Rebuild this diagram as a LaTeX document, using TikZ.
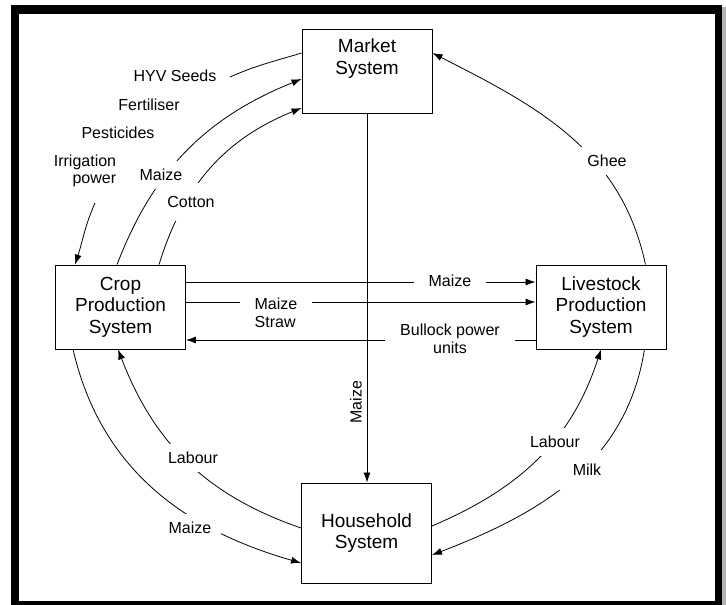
\documentclass[tikz,border=0pt]{standalone}
\usepackage{fontspec}
\setmainfont{Liberation Sans}
\usetikzlibrary{arrows.meta}

\tikzset{
	sysbox/.style={draw, line width=0.9pt, minimum width=130pt, minimum height=84pt, inner sep=0pt, align=center, font=\fontsize{19}{21.5}\selectfont},
	flow/.style={line width=0.8pt, -{Latex[length=10pt,width=7pt]}},
	plain/.style={line width=0.8pt},
	lbl/.style={fill=white, inner sep=8pt, align=center, font=\fontsize{16}{17.5}\selectfont},
	hlbl/.style={lbl, inner xsep=15pt, inner ysep=1pt},
}

\begin{document}
\begin{tikzpicture}[x=1pt,y=1pt]
			%%%%% START %%%%%
			
			\useasboundingbox (0,0) rectangle (726,-605);
			\fill[black!30] (722,-7) rectangle (726,-605);
			\fill[black] (11,-5) rectangle (722,-605);
			\fill[white] (19,-14) rectangle (715,-601);
			
			\node[sysbox] (mkt) at (367,-71) {Market\\System\\[7pt]~};
			\node[sysbox] (crop) at (120.5,-307) {Crop\\Production\\System};
			\node[sysbox] (ls) at (601,-307) {Livestock\\Production\\System};
			\node[sysbox, minimum height=100pt] (hh) at (366.5,-533) {Household\\System};
			
			\draw[flow] (mkt.south) -- (mkt.south |- hh.north);
			\draw[flow] ([yshift=25pt]crop.east) -- ([yshift=25pt]ls.west);
			\draw[flow] ([yshift=5pt]crop.east) -- ([yshift=5pt]ls.west);
			\draw[flow] ([yshift=-33pt]ls.west) -- ([yshift=-33pt]crop.east);
			
			\coordinate (hyvA) at (230,-77);
			\coordinate (hyvB) at (95,-203);
			\draw[plain] ([yshift=18pt]mkt.west) to[out=197,in=24] (hyvA);
			\draw[flow] (hyvB) to[out=246,in=72] ([xshift=20pt]crop.north west);
			
			\draw[flow] ([xshift=62pt]crop.north west) to[out=69,in=202] ([yshift=-8pt]mkt.west);
			\draw[flow] ([xshift=104pt]crop.north west) to[out=73,in=202] ([yshift=-37pt]mkt.west);
			\draw[flow] ([xshift=-21pt]ls.north east) to[out=102,in=333] ([yshift=18pt]mkt.east);
			
			\draw[flow] ([xshift=18pt]crop.south west) to[out=283,in=164] ([yshift=-30pt]hh.west);
			\draw[flow] ([yshift=5pt]hh.west) to[out=161,in=-69] ([xshift=63pt]crop.south west);
			\draw[flow] ([yshift=7pt]hh.east) to[out=23,in=252] (ls.south);
			\draw[flow] ([xshift=-22pt]ls.south east) to[out=261,in=21] ([yshift=-22pt]hh.east);
			
			\node[hlbl] (lmaizea) at (450,-281) {Maize};
			\node[hlbl, align=left] (lstraw) at (276,-313) {Maize\\Straw};
			\node[hlbl] (lbull) at (450,-339) {Bullock power\\units};
			\node[lbl, fill=none, inner sep=2pt, rotate=90] (lmaizeb) at (356,-402) {Maize};
			
			\node[lbl, inner sep=3pt] (lhyv) at (175,-76) {HYV Seeds};
			\node[lbl, inner sep=3pt] (lfert) at (149,-105) {Fertiliser};
			\node[lbl, inner sep=3pt] (lpest) at (118,-133) {Pesticides};
			\node[lbl, inner sep=3pt, align=right] (lirr) at (85,-171) {Irrigation\\power};
			\node[lbl] (lmaizec) at (161,-175) {Maize};
			\node[lbl, inner ysep=13pt] (lcot) at (191,-202) {Cotton};
			\node[lbl] (lghee) at (607,-161) {Ghee};
			
			\node[lbl] (llaba) at (193,-458) {Labour};
			\node[lbl, inner xsep=10pt] (lmaized) at (190,-528) {Maize};
			\node[lbl] (llabb) at (555,-442) {Labour};
			\node[lbl, inner sep=14pt] (lmilk) at (587,-470) {Milk};
			
			%%%%% END %%%%%
\end{tikzpicture}
\end{document}
